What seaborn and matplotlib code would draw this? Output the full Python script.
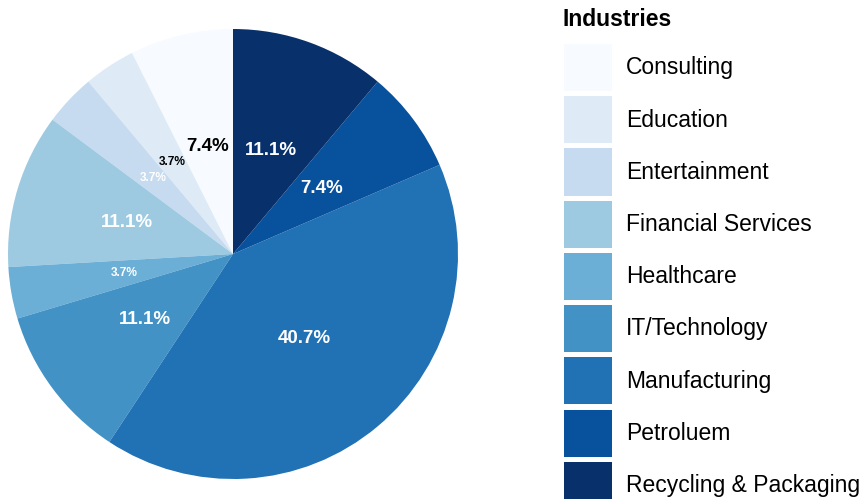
import matplotlib
matplotlib.use('Agg')
import matplotlib.pyplot as plt
import seaborn as sns

industries = ['Consulting', 'Education', 'Entertainment', 'Financial Services',
              'Healthcare', 'IT/Technology', 'Manufacturing', 'Petroluem',
              'Recycling & Packaging']
counts = [2, 1, 1, 3, 1, 3, 11, 2, 3]
label_colors = ['black', 'black', 'white', 'white', 'white', 'white', 'white', 'white', 'white']

sns.set_theme(style='white')
plt.rcParams['font.family'] = ['Liberation Sans', 'DejaVu Sans']
plt.rcParams['text.color'] = 'black'

palette = sns.color_palette(['#F7FBFF', '#DEEBF7', '#C6DBEF', '#9ECAE1', '#6BAED6',
                             '#4292C6', '#2171B5', '#08519C', '#08306B'])

fig = plt.figure(figsize=(8.68, 4.99), dpi=100)
ax = fig.add_axes([8 / 868, 20 / 499, 450 / 868, 450 / 499])

wedges, texts, autotexts = ax.pie(
    counts, colors=palette, startangle=90, counterclock=True,
    autopct='%.1f%%', pctdistance=0.49, radius=1,
    wedgeprops={'linewidth': 0},
    textprops={'fontweight': 'bold'})

total = sum(counts)
for t, c, col in zip(autotexts, counts, label_colors):
    t.set_color(col)
    t.set_fontsize(13.5 if c / total > 0.05 else 8.6)

ax.set_xlim(-1, 1)
ax.set_ylim(-1, 1)
ax.set_aspect('equal')

# legend title drawn separately so the gap below it matches
fig.text(563 / 868, 1 - 19 / 499, 'Industries', fontsize=16.5, fontweight='bold',
         ha='left', va='center', color='black')
leg = fig.legend(wedges, industries, loc='upper left',
                 bbox_to_anchor=(564 / 868, 1 - 44 / 499), frameon=False,
                 fontsize=16.5, handlelength=2.09, handleheight=2.79,
                 labelspacing=0.22, handletextpad=0.62, borderpad=0, borderaxespad=0)
for t in leg.get_texts():
    t.set_color('black')

fig.savefig('out.png', dpi=100)
